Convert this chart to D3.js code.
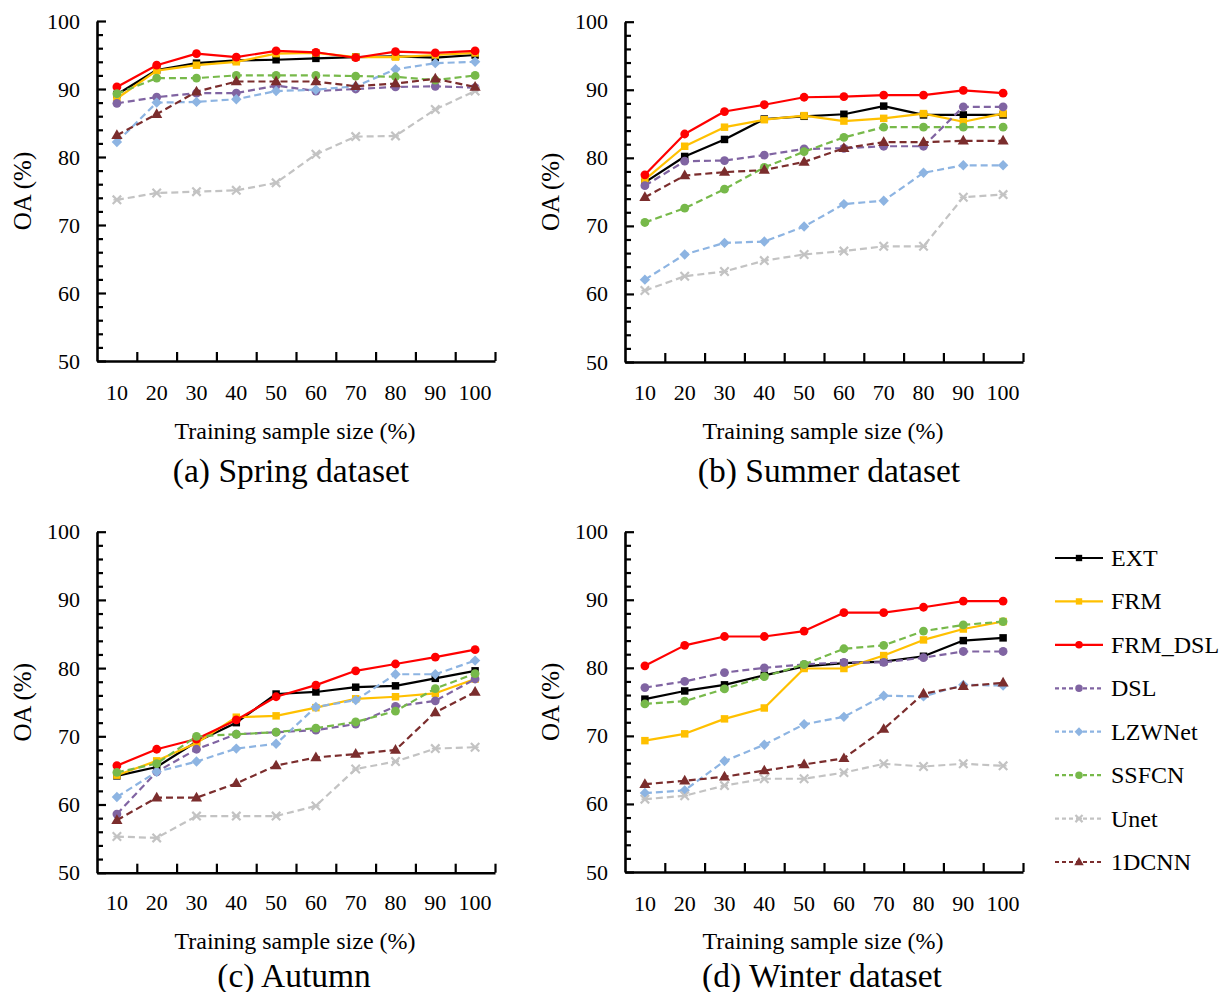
<!DOCTYPE html>
<html><head><meta charset="utf-8">
<script src="https://cdn.jsdelivr.net/npm/d3@7"></script>
<style>body{margin:0;background:#fff}svg{display:block}text{font-family:"Liberation Serif","Times New Roman",serif;fill:#000}</style>
</head><body>
<svg id="c" width="1220" height="992"></svg>
<script>
const categories = ["10","20","30","40","50","60","70","80","90","100"];
const seriesNames = ["EXT","FRM","FRM_DSL","DSL","LZWNet","SSFCN","Unet","1DCNN"];
const yTicks = [50,60,70,80,90,100];
const xTitle = "Training sample size (%)";
const yTitle = "OA (%)";
const panelTitles = ["(a) Spring dataset","(b) Summer dataset","(c) Autumn","(d) Winter dataset"];

const spring = {
  EXT:     [89.2, 92.8, 93.8, 94.2, 94.3, 94.5, 94.7, 94.8, 94.6, 95.0],
  FRM:     [88.6, 92.7, 93.5, 94.0, 95.2, 95.3, 94.7, 94.7, 95.0, 95.3],
  FRM_DSL: [90.3, 93.5, 95.2, 94.7, 95.6, 95.4, 94.6, 95.5, 95.3, 95.6],
  DSL:     [87.9, 88.8, 89.4, 89.4, 90.5, 89.7, 90.0, 90.3, 90.4, 90.2],
  LZWNet:  [82.2, 88.0, 88.1, 88.5, 89.7, 89.9, 90.4, 92.9, 93.8, 94.0],
  SSFCN:   [89.3, 91.6, 91.6, 92.0, 92.0, 92.0, 91.9, 91.8, 91.3, 92.0],
  Unet:    [73.7, 74.7, 74.9, 75.1, 76.2, 80.4, 83.0, 83.1, 87.0, 89.7],
  "1DCNN": [83.2, 86.3, 89.6, 91.1, 91.1, 91.1, 90.4, 90.8, 91.5, 90.3]
};
const summer = {
  EXT:     [76.4, 80.2, 82.7, 85.7, 86.1, 86.4, 87.6, 86.3, 86.3, 86.3],
  FRM:     [76.8, 81.7, 84.5, 85.6, 86.2, 85.4, 85.8, 86.5, 85.3, 86.5],
  FRM_DSL: [77.5, 83.5, 86.8, 87.8, 88.9, 89.0, 89.2, 89.2, 89.9, 89.5],
  DSL:     [75.9, 79.5, 79.6, 80.4, 81.3, 81.4, 81.7, 81.7, 87.5, 87.5],
  LZWNet:  [62.1, 65.8, 67.5, 67.7, 69.9, 73.2, 73.7, 77.8, 78.9, 78.9],
  SSFCN:   [70.5, 72.6, 75.4, 78.6, 80.9, 83.0, 84.5, 84.5, 84.5, 84.5],
  Unet:    [60.5, 62.6, 63.3, 64.9, 65.8, 66.3, 67.0, 67.0, 74.2, 74.6],
  "1DCNN": [74.2, 77.4, 77.9, 78.2, 79.4, 81.4, 82.3, 82.3, 82.5, 82.5]
};
const autumn = {
  EXT:     [64.2, 65.5, 69.2, 72.0, 76.2, 76.5, 77.2, 77.4, 78.5, 79.6],
  FRM:     [64.3, 66.4, 69.0, 72.8, 73.0, 74.2, 75.5, 75.8, 76.3, 78.4],
  FRM_DSL: [65.7, 68.1, 69.6, 72.4, 75.8, 77.5, 79.6, 80.6, 81.6, 82.7],
  DSL:     [58.6, 64.8, 68.1, 70.3, 70.6, 70.9, 71.8, 74.4, 75.2, 78.4],
  LZWNet:  [61.1, 64.8, 66.3, 68.2, 68.9, 74.3, 75.3, 79.1, 79.1, 81.1],
  SSFCN:   [64.7, 66.0, 70.0, 70.3, 70.6, 71.2, 72.1, 73.7, 77.0, 79.2],
  Unet:    [55.3, 55.1, 58.3, 58.3, 58.3, 59.8, 65.2, 66.3, 68.2, 68.4],
  "1DCNN": [57.7, 61.0, 61.0, 63.1, 65.7, 66.9, 67.4, 68.0, 73.5, 76.5]
};
const winter = {
  EXT:     [75.4, 76.6, 77.5, 78.9, 80.2, 80.7, 80.9, 81.7, 84.0, 84.4],
  FRM:     [69.3, 70.3, 72.5, 74.1, 79.9, 79.9, 81.8, 84.1, 85.7, 86.8],
  FRM_DSL: [80.3, 83.3, 84.6, 84.6, 85.4, 88.1, 88.1, 88.9, 89.8, 89.8],
  DSL:     [77.1, 78.0, 79.3, 80.0, 80.5, 80.8, 80.8, 81.5, 82.4, 82.4],
  LZWNet:  [61.6, 62.0, 66.3, 68.7, 71.7, 72.8, 75.9, 75.8, 77.5, 77.4],
  SSFCN:   [74.7, 75.1, 76.9, 78.7, 80.5, 82.8, 83.3, 85.4, 86.3, 86.8],
  Unet:    [60.7, 61.2, 62.7, 63.7, 63.7, 64.6, 65.9, 65.5, 65.9, 65.6],
  "1DCNN": [62.9, 63.4, 64.0, 64.9, 65.8, 66.7, 71.0, 76.2, 77.3, 77.8]
};
const datasets = [spring, summer, autumn, winter];

const styles = {
  EXT:     {color:"#000000", dash:null, sym:"square"},
  FRM:     {color:"#FFC000", dash:null, sym:"square"},
  FRM_DSL: {color:"#FF0000", dash:null, sym:"circle"},
  DSL:     {color:"#8064A2", dash:"7,4", sym:"circle"},
  LZWNet:  {color:"#8DB4E2", dash:"7,4", sym:"diamond"},
  SSFCN:   {color:"#77B94A", dash:"7,4", sym:"circle"},
  Unet:    {color:"#C3C3C3", dash:"7,4", sym:"star"},
  "1DCNN": {color:"#7B2D2D", dash:"7,4", sym:"triangle"}
};

const panels = [
  {x0:97,  x1:495,  yT:21,    yB:361,   tickLY:392, axTY:431, capY:470, capX:291},
  {x0:625, x1:1023, yT:21.7,  yB:362,   tickLY:392, axTY:431, capX:829, capY:470},
  {x0:97,  x1:495,  yT:531.7, yB:872.7, tickLY:903, axTY:941, capX:294, capY:975},
  {x0:625, x1:1023, yT:531.7, yB:872,   tickLY:903, axTY:941, capX:822, capY:975}
];

const svg = d3.select("#c");

function drawMarker(g, sym, color, x, y, scale) {
  scale = scale || 1;
  if (sym === "circle") {
    g.append("circle").attr("cx", x).attr("cy", y).attr("r", 4.4*scale).attr("fill", color);
  } else if (sym === "square") {
    g.append("path").attr("d", d3.symbol(d3.symbolSquare, 56*scale*scale)()).attr("transform", `translate(${x},${y})`).attr("fill", color);
  } else if (sym === "diamond") {
    g.append("path").attr("d", d3.symbol(d3.symbolSquare, 54*scale*scale)()).attr("transform", `translate(${x},${y}) rotate(45)`).attr("fill", color);
  } else if (sym === "triangle") {
    g.append("path").attr("d", d3.symbol(d3.symbolTriangle, 54*scale*scale)()).attr("transform", `translate(${x},${y+0.5})`).attr("fill", color);
  } else if (sym === "star") {
    g.append("path").attr("d", d3.symbol(d3.symbolTimes, 48*scale*scale)()).attr("transform", `translate(${x},${y})`).attr("fill", "none").attr("stroke", color).attr("stroke-width", 2.2);
    g.append("path").attr("d", `M${-3.5*scale},0H${3.5*scale}`).attr("transform", `translate(${x},${y})`).attr("stroke", color).attr("stroke-width", 1.5);
  }
}

panels.forEach((p, i) => {
  const data = datasets[i];
  const g = svg.append("g");
  const x = d3.scaleBand().domain(categories).range([p.x0, p.x1]).padding(0);
  const xb = d3.scaleLinear().domain([0, categories.length]).range([p.x0, p.x1]);
  const y = d3.scaleLinear().domain([50, 100]).range([p.yB, p.yT]);

  const minor = d3.range(50, 101, 2).filter(v => v % 10 !== 0);
  g.append("g").attr("transform", `translate(${p.x0},0)`)
    .call(d3.axisLeft(y).tickValues(minor).tickSize(-6).tickFormat("").tickSizeOuter(0))
    .call(a => a.select(".domain").remove())
    .call(a => a.selectAll("line").attr("stroke-width", 2.2));
  g.append("g").attr("transform", `translate(${p.x0},0)`)
    .call(d3.axisLeft(y).tickValues(yTicks).tickSize(-9).tickPadding(17).tickSizeOuter(0))
    .call(a => a.select(".domain").attr("stroke-width", 2.6))
    .call(a => a.selectAll("line").attr("stroke-width", 2.2))
    .call(a => a.selectAll("text").attr("font-size", 22).attr("font-family", "Liberation Serif"));
  g.append("g").attr("transform", `translate(0,${p.yB})`)
    .call(d3.axisBottom(xb).tickValues(d3.range(1, categories.length + 1)).tickSize(-9).tickFormat("").tickSizeOuter(0))
    .call(a => a.select(".domain").attr("stroke-width", 2.6))
    .call(a => a.selectAll("line").attr("stroke-width", 2.2));
  g.append("g").attr("transform", `translate(0,${p.yB})`)
    .call(d3.axisBottom(x).tickSize(0).tickPadding(0))
    .call(a => a.select(".domain").remove())
    .call(a => a.selectAll("text").attr("dy", null).attr("y", p.tickLY - p.yB).attr("dominant-baseline", "central")
      .attr("font-size", 22).attr("font-family", "Liberation Serif"));

  g.append("text").attr("x", (p.x0 + p.x1) / 2 - 1).attr("y", p.axTY).attr("text-anchor", "middle")
    .attr("dominant-baseline", "central").attr("font-size", 24).text(xTitle);
  g.append("text").attr("transform", `translate(${p.x0 - 75},${(p.yT + p.yB) / 2 + 0}) rotate(-90)`)
    .attr("text-anchor", "middle").attr("dominant-baseline", "central").attr("font-size", 25).text(yTitle);
  g.append("text").attr("x", p.capX).attr("y", p.capY).attr("text-anchor", "middle")
    .attr("dominant-baseline", "central").attr("font-size", 33.5).text(panelTitles[i]);

  const line = d3.line().x((d, j) => x(categories[j]) + x.bandwidth() / 2).y(d => y(d));
  seriesNames.forEach(name => {
    const st = styles[name];
    const vals = data[name];
    g.append("path").attr("d", line(vals)).attr("fill", "none").attr("stroke", st.color)
      .attr("stroke-width", 2.2).attr("stroke-dasharray", st.dash).attr("stroke-linejoin", "round");
    const mg = g.append("g");
    vals.forEach((v, j) => drawMarker(mg, st.sym, st.color, x(categories[j]) + x.bandwidth() / 2, y(v)));
  });
});

const legendY = d3.scalePoint().domain(seriesNames).range([558, 862]);
const lg = svg.append("g");
seriesNames.forEach(name => {
  const st = styles[name];
  const yy = legendY(name);
  lg.append("line").attr("x1", 1055).attr("x2", 1103).attr("y1", yy).attr("y2", yy)
    .attr("stroke", st.color).attr("stroke-width", 2.2).attr("stroke-dasharray", st.dash ? "4,3" : null);
  drawMarker(lg, st.sym, st.color, 1079, yy, 0.85);
  lg.append("text").attr("x", 1111).attr("y", yy).attr("dominant-baseline", "central")
    .attr("font-size", 24).text(name);
});
</script>
</body></html>
